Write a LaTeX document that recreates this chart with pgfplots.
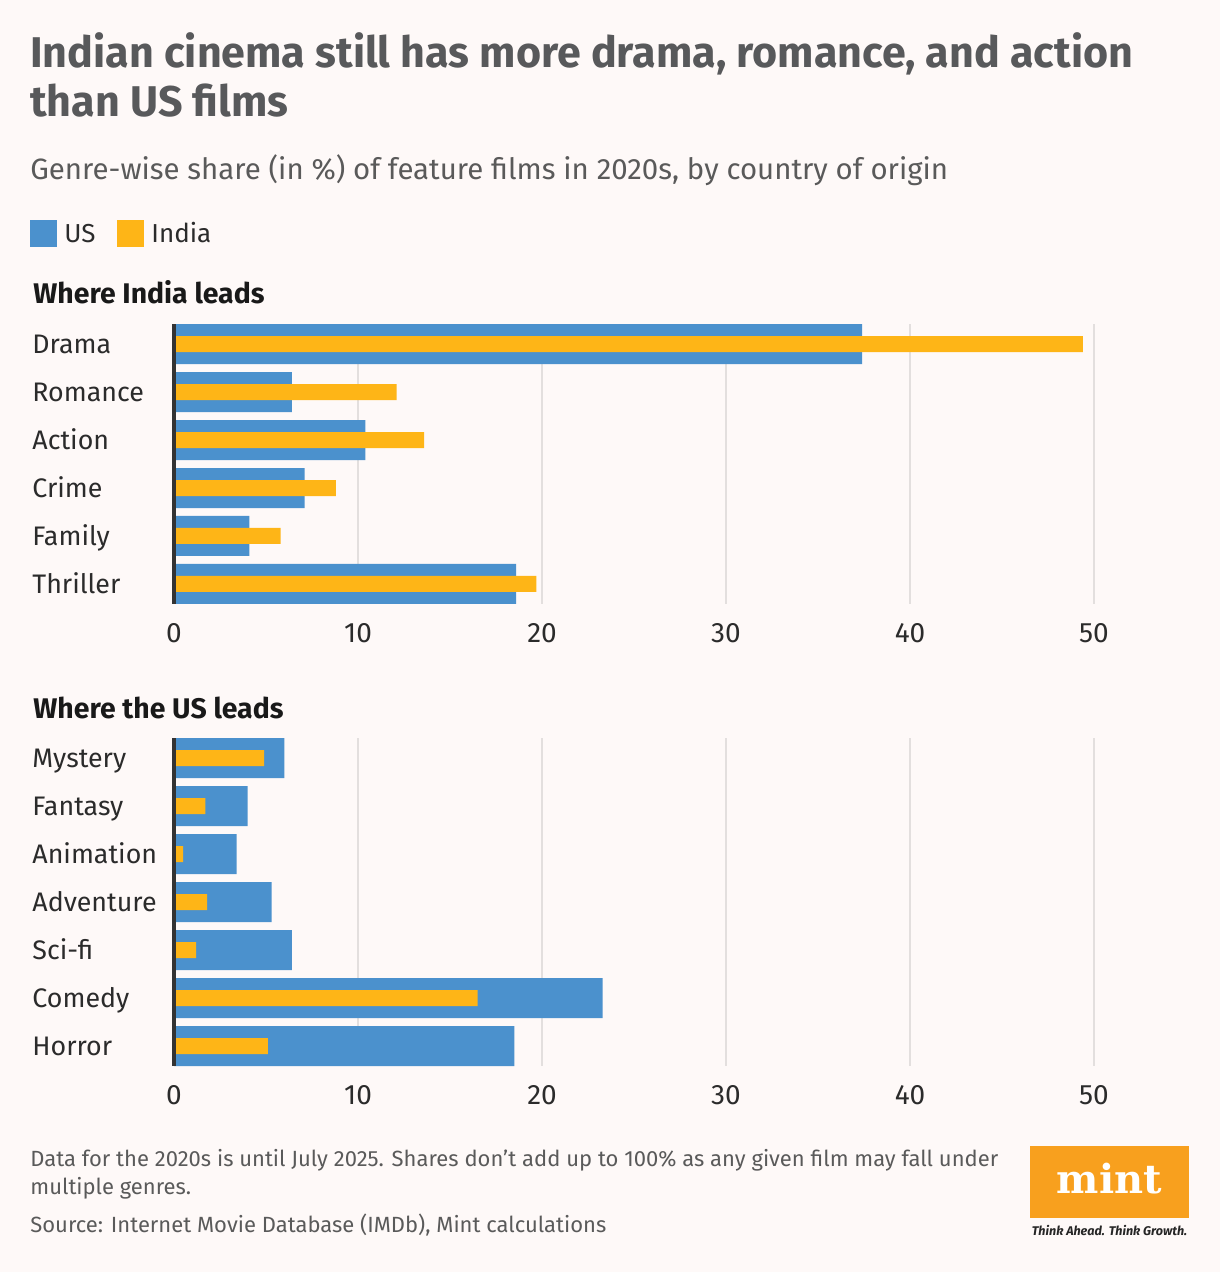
\documentclass[border=0pt]{standalone}
\usepackage{pgfplots}
\pgfplotsset{compat=1.18}
\usepackage{fontspec}
\setmainfont{Fira Sans}
\newfontfamily\logofont{DejaVu Serif}

\definecolor{bgc}{HTML}{FEF9F8}
\definecolor{usblue}{HTML}{4B91CD}
\definecolor{inorange}{HTML}{FEB517}
\definecolor{gridc}{HTML}{E3DFDE}
\definecolor{titlec}{HTML}{58595B}
\definecolor{subc}{HTML}{5A5A5A}
\definecolor{labc}{HTML}{2B2B2B}
\definecolor{mintor}{HTML}{F8A01E}

% Genre shares (%), 2020s
\pgfplotstableread{
pos us india
0 37.4 49.4
1 6.4 12.1
2 10.4 13.6
3 7.1 8.8
4 4.1 5.8
5 18.6 19.7
}\indialeads
\pgfplotstableread{
pos us india
0 6.0 4.9
1 4.0 1.7
2 3.4 0.5
3 5.3 1.8
4 6.4 1.2
5 23.3 16.5
6 18.5 5.1
}\usleads

\pgfplotsset{
  panel/.style={
    scale only axis, width=460pt, xmin=0, xmax=50,
    y dir=reverse, anchor=north west,
    xtick={0,10,...,50}, xmajorgrids,
    grid style={color=gridc, line width=1pt},
    axis line style={draw=none}, major tick length=0pt,
    /pgf/number format/assume math mode=true,
    xticklabel style={font=\fontsize{14}{16}\selectfont, color=labc, anchor=base, yshift=-19pt},
    yticklabel style={font=\fontsize{13.4}{16}\selectfont, color=labc, anchor=base west, xshift=-71pt, yshift=-4.6pt, inner sep=0pt},
    clip=false,
  },
  usbar/.style={xbar, bar shift=0pt, bar width=20pt, fill=usblue, draw=none},
  inbar/.style={xbar, bar shift=0pt, bar width=8pt, fill=inorange, draw=none},
}

\begin{document}
\begin{tikzpicture}
\begin{scope}[x=0.5pt, y=-0.5pt]
  \fill[bgc] (0,0) rectangle (1220,1272);
  \useasboundingbox (0,0) rectangle (1220,1272);
  % title and subtitle
  \node[anchor=base west, inner sep=0pt, text=titlec, font=\fontsize{21.5}{24}\selectfont\bfseries]
    at (30,68) {Indian cinema still has more drama, romance, and action};
  \node[anchor=base west, inner sep=0pt, text=titlec, font=\fontsize{21.5}{24}\selectfont\bfseries]
    at (30,117) {than US films};
  \node[anchor=base west, inner sep=0pt, text=subc, font=\fontsize{14.7}{18}\selectfont]
    at (30,180) {Genre-wise share (in \%) of feature films in 2020s, by country of origin};
  % legend
  \fill[usblue] (30,220) rectangle (57,247);
  \node[anchor=base west, inner sep=0pt, text=labc, font=\fontsize{13}{16}\selectfont] at (64,243) {US};
  \fill[inorange] (117,220) rectangle (144,247);
  \node[anchor=base west, inner sep=0pt, text=labc, font=\fontsize{13}{16}\selectfont] at (151,243) {India};
  % panel headings
  \node[anchor=base west, inner sep=0pt, text=black!90, font=\fontsize{14.2}{16}\selectfont\bfseries]
    at (33,304) {Where India leads};
  \node[anchor=base west, inner sep=0pt, text=black!90, font=\fontsize{14.2}{16}\selectfont\bfseries]
    at (33,718) {Where the US leads};
  % notes
  \node[anchor=base west, inner sep=0pt, text=subc, font=\fontsize{11}{14}\selectfont]
    at (30,1166) {Data for the 2020s is until July 2025. Shares don't add up to 100\% as any given film may fall under};
  \node[anchor=base west, inner sep=0pt, text=subc, font=\fontsize{11}{14}\selectfont]
    at (30,1194) {multiple genres.};
  \node[anchor=base west, inner sep=0pt, text=subc, font=\fontsize{11}{14}\selectfont]
    at (30,1232) {Source: Internet Movie Database (IMDb), Mint calculations};
  % logo
  \fill[mintor] (1030,1146) rectangle (1189,1218);
  \node[anchor=base, inner sep=0pt, text=white, font=\logofont\fontsize{20}{22}\selectfont\bfseries]
    at (1109.5,1193) {mint};
  \node[anchor=base, inner sep=0pt, text=black!85, font=\fontsize{6.3}{7}\selectfont\bfseries\itshape]
    at (1109.5,1235) {Think Ahead. Think Growth.};
\end{scope}

% Where India leads
\begin{axis}[panel, at={(87pt,-162pt)}, height=140pt,
  ymin=-0.4167, ymax=5.4167, ytick={0,...,5},
  yticklabels={Drama,Romance,Action,Crime,Family,Thriller}]
  \addplot[usbar] table[x=us, y=pos] {\indialeads};
  \addplot[inbar] table[x=india, y=pos] {\indialeads};
  \draw[line width=2pt, color=black!80] (axis cs:0,-0.4167) -- (axis cs:0,5.4167);
\end{axis}

% Where the US leads
\begin{axis}[panel, at={(87pt,-369pt)}, height=164pt,
  ymin=-0.4167, ymax=6.4167, ytick={0,...,6},
  yticklabels={Mystery,Fantasy,Animation,Adventure,Sci-fi,Comedy,Horror}]
  \addplot[usbar] table[x=us, y=pos] {\usleads};
  \addplot[inbar] table[x=india, y=pos] {\usleads};
  \draw[line width=2pt, color=black!80] (axis cs:0,-0.4167) -- (axis cs:0,6.4167);
\end{axis}
\end{tikzpicture}
\end{document}
